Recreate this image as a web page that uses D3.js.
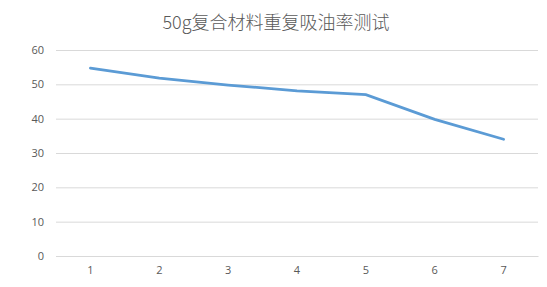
<!DOCTYPE html>
<html><head><meta charset="utf-8">
<script src="https://cdn.jsdelivr.net/npm/d3@7"></script>
<style>body{margin:0;background:#fff}svg{display:block}</style>
</head><body>
<script>
const categories = ["1","2","3","4","5","6","7"];
const values = [54.7, 51.8, 49.8, 48.1, 47.0, 39.8, 34.0];
const yTicks = [0,10,20,30,40,50,60];
const title = "50g复合材料重复吸油率测试";

const W=547,H=287;
const svg=d3.select("body").append("svg").attr("width",W).attr("height",H);
const x=d3.scaleBand().domain(categories).range([56,538]);
const y=d3.scaleLinear().domain([0,60]).range([256,50]);

svg.append("text").attr("x",276).attr("y",29).attr("text-anchor","middle")
  .attr("font-family","'Noto Sans CJK SC', sans-serif").attr("font-weight",300).attr("font-size",18).attr("fill","#595959").text(title);

const yAxis=svg.append("g").attr("transform","translate(56,0)")
  .call(d3.axisLeft(y).tickValues(yTicks).tickSize(-482).tickPadding(12));
yAxis.select(".domain").remove();
yAxis.selectAll("line").attr("stroke","#d9d9d9");
yAxis.selectAll("text").attr("fill","#595959").attr("font-size",11).attr("font-family","'Open Sans', sans-serif");

const xAxis=svg.append("g").attr("transform","translate(0,256)")
  .call(d3.axisBottom(x).tickSize(0).tickPadding(10));
xAxis.select(".domain").attr("stroke","#d9d9d9");
xAxis.selectAll("text").attr("fill","#595959").attr("font-size",11).attr("font-family","'Open Sans', sans-serif");

const line=d3.line().x((d,i)=>x(categories[i])+x.bandwidth()/2).y(d=>y(d));
svg.append("path").datum(values).attr("d",line).attr("fill","none")
  .attr("stroke","#5B9BD5").attr("stroke-width",2.8).attr("stroke-linecap","round");
</script>
</body></html>
